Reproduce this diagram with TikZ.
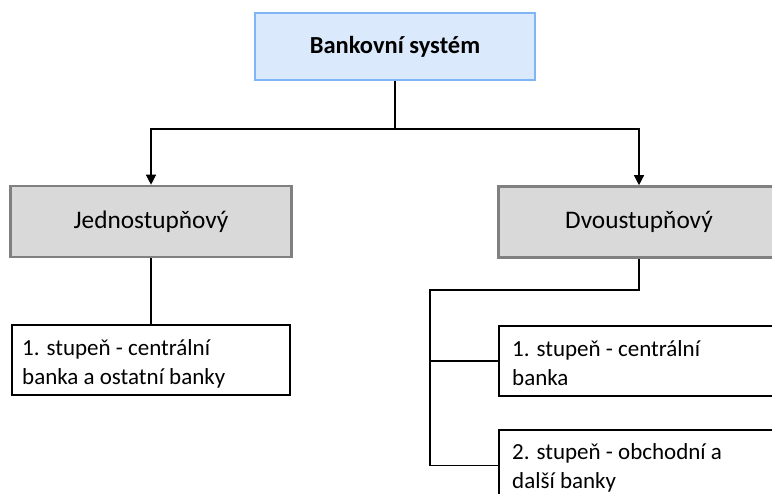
\documentclass[tikz,border=0pt]{standalone}
\usepackage{fontspec}
\setmainfont{Carlito}
\usetikzlibrary{arrows.meta}
\definecolor{topfill}{HTML}{DAE9FC}
\definecolor{topline}{HTML}{80B5F5}
\definecolor{grayfill}{HTML}{D9D9D9}
\definecolor{grayline}{HTML}{808080}
\tikzset{
  topbox/.style={draw=topline, line width=2.6pt, fill=topfill, minimum width=280pt, minimum height=67pt, inner sep=0pt,
    font=\fontsize{24.5}{28}\selectfont\bfseries},
  graybox/.style={draw=grayline, line width=2.6pt, fill=grayfill, minimum width=281pt, minimum height=71pt, inner sep=0pt,
    font=\fontsize{25.3}{30}\selectfont},
  whitebox/.style={draw=black, line width=1.3pt, fill=white, inner sep=0pt},
  boxtext/.style={anchor=north west, inner sep=0pt, align=left, font=\fontsize{23}{29}\selectfont},
  conn/.style={draw=black, line width=1.3pt},
  arr/.style={conn, -{Triangle[length=10pt,width=10pt]}}
}
\begin{document}
\begin{tikzpicture}[x=1pt,y=-1pt]
\useasboundingbox (0,0) rectangle (772,494);
\clip (0,0) rectangle (772,494);
\node[topbox] (bs) at (395,46.5) {\raisebox{-1.5pt}{Bankovní systém}};
\node[graybox] (j) at (151,221.5) {Jednostupňový};
\node[graybox] (d) at (639,222) {Dvoustupňový};
% bottom boxes
\node[whitebox, minimum width=278pt, minimum height=70pt] (b1) at (151,360) {};
\node[whitebox, minimum width=280pt, minimum height=70pt] (c1) at (639,361) {};
\node[whitebox, minimum width=280pt, minimum height=71pt] (c2) at (639,465.5) {};
\node[boxtext] (b1t) at (22,339) {1. stupeň - centrální\\banka a ostatní banky};
\node[boxtext] (c1t) at (512,340) {1. stupeň - centrální\\banka};
\node[boxtext] (c2t) at (512,443) {2. stupeň - obchodní a\\další banky};
% connectors
\coordinate (hb) at (395,129);
\coordinate (rv) at (430,290);
\coordinate (r1) at (430,361);
\coordinate (r2) at (430,465.5);
\draw[conn] (bs.south) -- (hb);
\draw[arr] (hb) -| (j.north);
\draw[arr] (hb) -| (d.north);
\draw[conn] (j.south) -- (b1.north);
\draw[conn] (d.south) |- (rv) -- (r2) -- (c2.west);
\draw[conn] (r1) -- (c1.west);
\end{tikzpicture}
\end{document}
